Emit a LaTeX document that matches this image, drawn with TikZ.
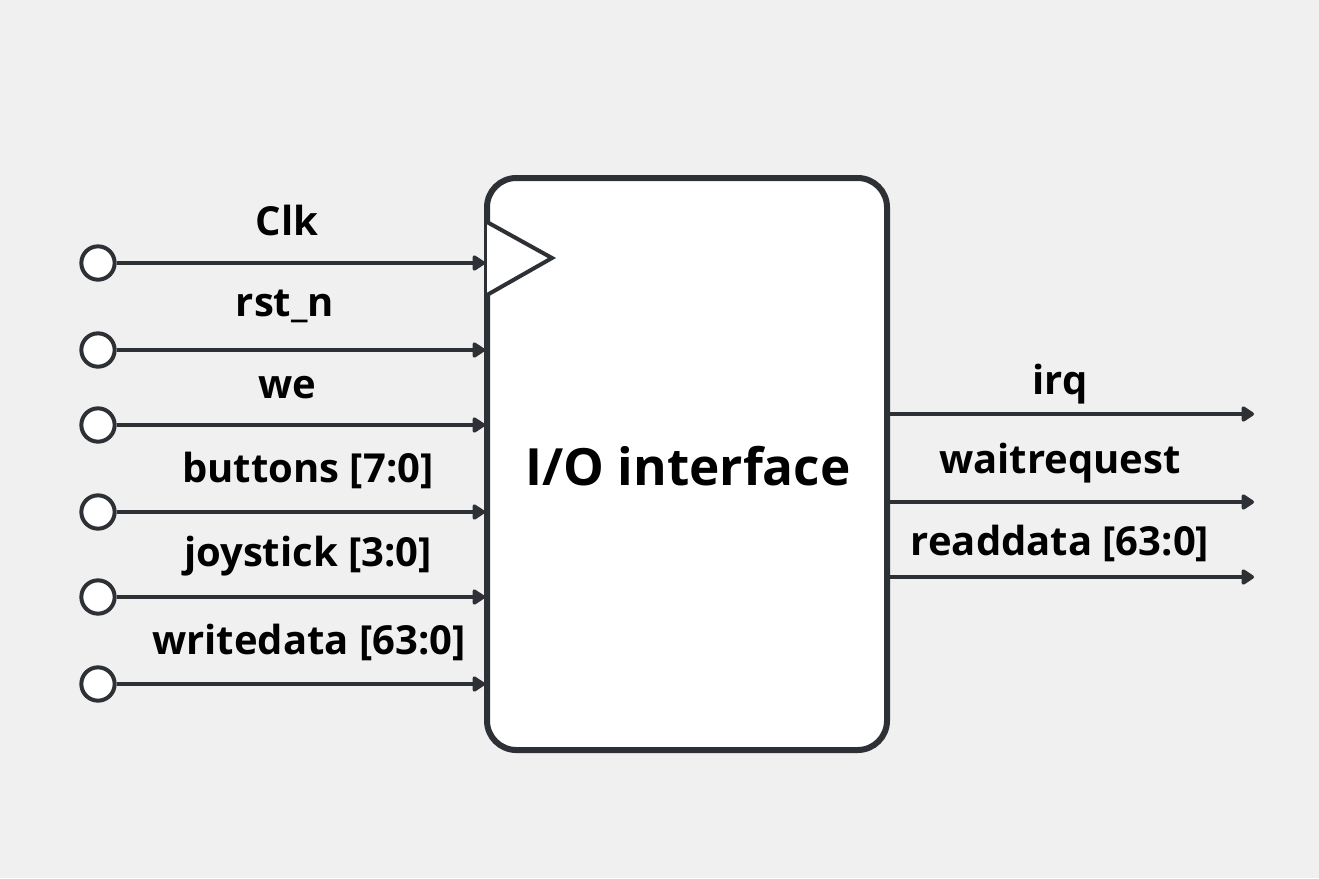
\documentclass[tikz,border=0pt]{standalone}
\usepackage{fontspec}
\setmainfont{Open Sans}
\usetikzlibrary{arrows.meta}
\definecolor{bg}{HTML}{F0F0F0}
\definecolor{ink}{HTML}{2D3034}
\tikzset{
  px/.style={x=0.75pt,y=-0.75pt},
  sig/.style={draw=ink,line width=3pt,-{Triangle[length=10.5pt,width=13pt,round]}},
  port/.style={circle,draw=ink,fill=white,line width=3pt,minimum size=25pt,inner sep=0pt},
  lbl/.style={font=\bfseries\fontsize{30}{36}\selectfont,text=black,inner sep=0pt},
  blk/.style={draw=ink,fill=white,line width=4.5pt,rounded corners=22pt,inner sep=0pt}
}
\begin{document}
\begin{tikzpicture}[px]
\fill[bg] (0,0) rectangle (1319,878);
\useasboundingbox (0,0) rectangle (1319,878);
% block
\node[blk,minimum width=300pt,minimum height=429pt] (io) at (687,464) {};
\node[font=\bfseries\fontsize{38.5}{46}\selectfont,text=black] (title) at (688,466) {I/O interface};
\draw[draw=ink,fill=white,line width=3pt,line join=miter] (487,222) -- (552,258) -- (487,295);
% input ports
\foreach \n/\y in {clk/263,rst/350,we/425,btn/512,joy/597,wd/684}{
  \node[port] (p\n) at (98,\y) {};
  \coordinate (e\n) at (485,\y);
}
\draw[sig] (pclk) -- (eclk);
\draw[sig] (prst) -- (erst);
\draw[sig] (pwe) -- (ewe);
\draw[sig] (pbtn) -- (ebtn);
\draw[sig] (pjoy) -- (ejoy);
\draw[sig] (pwd) -- (ewd);
\node[lbl] (lclk) at (287,220) {Clk};
\node[lbl] (lrst) at (285,306) {rst\_n};
\node[lbl] (lwe) at (287,388) {we};
\node[lbl] (lbtn) at (308,470) {buttons [7:0]};
\node[lbl] (ljoy) at (308,556) {joystick [3:0]};
\node[lbl] (lwd) at (309,642) {writedata [63:0]};
% outputs
\coordinate (sirq) at (887,414);
\coordinate (swr) at (887,502);
\coordinate (srd) at (887,577);
\coordinate (tirq) at (1254,414);
\coordinate (twr) at (1254,502);
\coordinate (trd) at (1254,577);
\draw[sig] (sirq) -- (tirq);
\draw[sig] (swr) -- (twr);
\draw[sig] (srd) -- (trd);
\node[lbl] (lirq) at (1060,384) {irq};
\node[lbl] (lwr) at (1060,463) {waitrequest};
\node[lbl] (lrd) at (1060,543) {readdata [63:0]};
\end{tikzpicture}
\end{document}
